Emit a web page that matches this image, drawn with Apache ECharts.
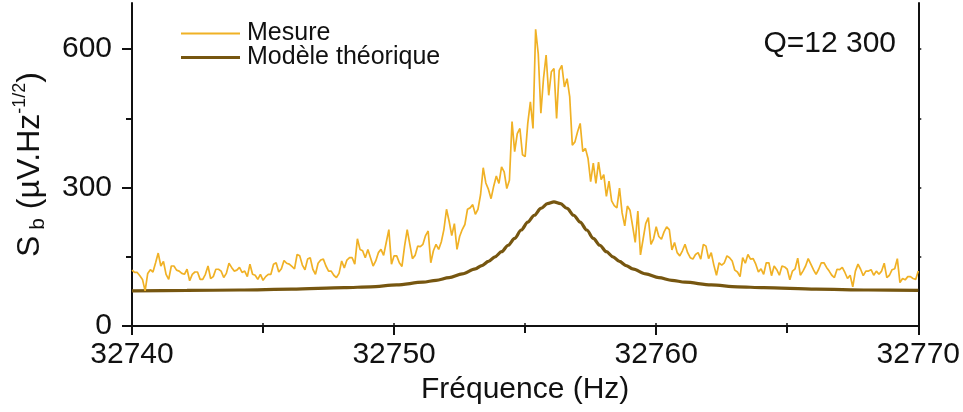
<!DOCTYPE html>
<html>
<head>
<meta charset="utf-8">
<script src="https://cdn.jsdelivr.net/npm/echarts@6/dist/echarts.min.js"></script>
<style>html,body{margin:0;padding:0;background:#fff}#c{width:963px;height:412px}</style>
</head>
<body>
<div id="c"></div>
<script>
// Frequency sweep of the measurement (Hz)
const freqStart = 32740;
const freqStep = 0.1;
// Measured noise amplitude (µV.Hz^-1/2), one value per frequency step
const mesure = [
121,116,116,109,101,76,114,122,117,137,
158,130,140,112,101,130,130,121,119,114,
112,123,98,112,117,117,101,101,112,130,
103,107,123,123,119,105,114,136,127,119,
121,127,116,119,107,134,112,110,101,112,
99,107,112,112,134,137,117,124,142,136,
134,129,124,155,152,132,122,145,148,123,
112,136,143,145,130,119,
119,110,105,114,141,126,143,148,148,134,
189,166,163,148,166,148,130,141,159,166,
153,181,209,134,152,152,137,129,173,209,
177,146,153,173,172,177,196,206,137,163,
177,166,182,209,253,227,196,222,166,194,
209,220,253,256,263,242,253,285,343,310,
296,276,303,325,
309,345,334,298,316,443,378,417,428,371,
367,439,486,428,643,590,461,536,587,500,
551,558,450,554,565,518,536,497,392,399,
421,439,378,385,363,313,353,309,
355,317,328,281,314,271,261,256,299,245,
217,260,251,217,181,249,154,188,222,235,
177,189,215,194,188,204,215,209,165,181,
159,152,163,177,159,148,145,155,159,145,
177,173,146,159,132,110,137,132,137,152,
148,141,121,117,
107,148,136,155,145,146,134,117,124,112,
137,137,109,130,122,110,130,128,123,100,
119,124,147,110,119,130,146,134,122,112,
123,137,137,127,119,110,105,123,122,127,
116,103,110,85,119,134,123,109,119,119,
122,110,119,112,119,136,105,110,122,124,
146,94,103,100,107,107,103,101,119
];
// Theoretical model
const modelFreq = [32740,32742.1,32744.1,32746.1,32748.1,32749.1,32750.1,32751.1,32751.6,32752.1,32752.6,32753.1,32753.35,32753.6,32753.85,32754.1,32754.35,32754.6,32754.85,32755.1,32755.35,32755.6,32755.85,32756.1,
32756.35,32756.6,32756.85,32757.1,32757.35,32757.6,32757.85,32758.1,32758.35,32758.6,32758.85,32759.1,32759.6,32760.1,32760.6,32761.1,32762.1,32763.1,32764.1,32766.1,32768.1,32770];
const modelVal = [76,77,78,80,83,85,89,95,99,105,113,124,131,140,150,161,175,190,208,225,240,255,265,269,
265,255,240,225,208,190,175,161,150,140,131,124,113,105,99,95,89,85,83,80,78,77];
// Axis ticks
const xTicks = [32740, 32750, 32760, 32770];
const yTicks = [0, 300, 600];
const yMinorTicks = [150, 450];
const yRightTicks = [150, 300, 450, 600];
const seriesNames = ['Mesure', 'Modèle théorique'];
const annotation = 'Q=12 300';

const FONT = '"Liberation Sans", Arial, sans-serif';
const mesureData = mesure.map((v, i) => [+(freqStart + i * freqStep).toFixed(2), v]);
const modelData = modelFreq.map((f, i) => [f, modelVal[i]]);

const chart = echarts.init(document.getElementById('c'), null, {renderer: 'canvas'});
const axisLine = {show: true, lineStyle: {color: '#111', width: 2}};
const legendText = {fontFamily: FONT, fontSize: 25, color: '#111', lineHeight: 25, padding: [0, 0, 0, 2]};
chart.setOption({
  animation: false,
  backgroundColor: '#fff',
  grid: {left: 132, right: 44, top: 3, bottom: 86, containLabel: false},
  legend: [{
    data: [seriesNames[0]], orient: 'vertical', left: 181, top: 21,
    icon: 'rect', itemWidth: 59, itemHeight: 2, padding: 0,
    textStyle: legendText
  }, {
    data: [seriesNames[1]], orient: 'vertical', left: 181, top: 45,
    icon: 'rect', itemWidth: 59, itemHeight: 3, padding: 0,
    textStyle: legendText
  }],
  xAxis: [{
    type: 'value', min: xTicks[0], max: xTicks[xTicks.length - 1], interval: 10,
    position: 'bottom',
    axisLine: axisLine,
    axisTick: {show: true, inside: false, length: 9, lineStyle: {color: '#111', width: 2}},
    minorTick: {show: true, splitNumber: 2, length: 7, lineStyle: {color: '#111', width: 2}},
    axisLabel: {fontFamily: FONT, fontSize: 30, color: '#111', margin: 14, formatter: v => String(v)},
    splitLine: {show: false},
    name: 'Fréquence (Hz)', nameLocation: 'middle', nameGap: 47,
    nameTextStyle: {fontFamily: FONT, fontSize: 30, color: '#111'}
  }, {
    type: 'value', min: xTicks[0], max: xTicks[xTicks.length - 1], interval: 10,
    position: 'top',
    axisLine: axisLine,
    axisTick: {show: true, inside: false, length: 3, lineStyle: {color: '#111', width: 1.5}},
    minorTick: {show: true, splitNumber: 2, length: 3, lineStyle: {color: '#111', width: 1.5}},
    axisLabel: {show: false},
    splitLine: {show: false}
  }],
  yAxis: [{
    type: 'value', min: 0, max: 700, interval: 100, position: 'left',
    axisLine: axisLine,
    axisTick: {show: true, inside: false, length: 10, customValues: yTicks, lineStyle: {color: '#111', width: 2}},
    axisLabel: {fontFamily: FONT, fontSize: 30, color: '#111', margin: 20, customValues: yTicks},
    splitLine: {show: false},
    name: '{m|S}{s| b}{m| (µV.Hz}{p|-1/2}{m|)}',
    nameLocation: 'middle', nameGap: 83, nameRotate: 90,
    nameTextStyle: {
      fontFamily: FONT, color: '#111',
      rich: {
        m: {fontFamily: FONT, fontSize: 32, color: '#111', lineHeight: 38},
        s: {fontFamily: FONT, fontSize: 21, color: '#111', lineHeight: 21, verticalAlign: 'bottom'},
        p: {fontFamily: FONT, fontSize: 18, color: '#111', lineHeight: 18, verticalAlign: 'top'}
      }
    }
  }, {
    type: 'value', min: 0, max: 700, interval: 100, position: 'left',
    axisLine: {show: false},
    axisTick: {show: true, inside: false, length: 6, customValues: yMinorTicks, lineStyle: {color: '#111', width: 2}},
    axisLabel: {show: false},
    splitLine: {show: false}
  }, {
    type: 'value', min: 0, max: 700, interval: 100, position: 'right',
    axisLine: axisLine,
    axisTick: {show: true, inside: false, length: 3, customValues: yRightTicks, lineStyle: {color: '#111', width: 1.5}},
    axisLabel: {show: false},
    splitLine: {show: false}
  }],
  graphic: [{
    type: 'text', right: 963 - 896, top: 29,
    style: {text: annotation, font: '30px ' + FONT, fill: '#111'}
  }],
  series: [{
    name: seriesNames[0], type: 'line', xAxisIndex: 0, yAxisIndex: 0,
    data: mesureData, symbol: 'none', z: 3,
    lineStyle: {color: '#F0B125', width: 1.7},
    itemStyle: {color: '#F0B125'}
  }, {
    name: seriesNames[1], type: 'line', xAxisIndex: 0, yAxisIndex: 0,
    data: modelData, symbol: 'none', smooth: 0.3, smoothMonotone: 'x', z: 2,
    lineStyle: {color: '#765610', width: 3.2},
    itemStyle: {color: '#765610'}
  }]
});
</script>
</body>
</html>
